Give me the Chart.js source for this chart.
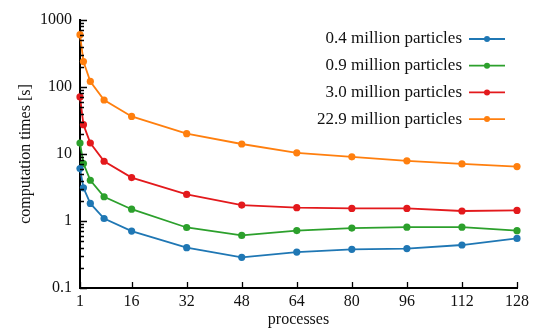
<!DOCTYPE html>
<html>
<head>
<meta charset="utf-8">
<script src="https://cdn.jsdelivr.net/npm/chart.js@4/dist/chart.umd.min.js"></script>
<style>
  html, body { margin: 0; padding: 0; background: #fff; }
  #wrap { width: 536px; height: 329px; }
</style>
</head>
<body>
<div id="wrap"><canvas id="c" width="536" height="329"></canvas></div>
<script>
// Process counts used in the scaling runs
const processes = [1, 2, 4, 8, 16, 32, 48, 64, 80, 96, 112, 128];

// Wall-clock computation times in seconds
const times04 = [6.06, 3.13, 1.83, 1.09, 0.707, 0.40, 0.287, 0.344, 0.378, 0.387, 0.438, 0.55];
const times09 = [14.6, 7.2, 4.06, 2.3, 1.5, 0.80, 0.61, 0.72, 0.785, 0.81, 0.81, 0.716];
const times30 = [71, 27.4, 14.6, 7.8, 4.45, 2.49, 1.73, 1.58, 1.54, 1.54, 1.41, 1.44];
const times229 = [604, 240, 121, 64, 36.4, 20.1, 14.1, 10.4, 9.06, 7.9, 7.1, 6.5];

const seriesLabels = ['0.4 million particles', '0.9 million particles', '3.0 million particles', '22.9 million particles'];
const seriesColors = ['#1f77b4', '#2ca02c', '#e3191c', '#ff7f0e'];

const xTicks = [1, 16, 32, 48, 64, 80, 96, 112, 128];
const yMajorTicks = [0.1, 1, 10, 100, 1000];
const yTickLabels = ['0.1', '1', '10', '100', '1000'];

const FONT = "'Liberation Serif', 'Times New Roman', serif";

function pts(ys) { return processes.map((x, i) => ({ x: x, y: ys[i] })); }

const allSeries = [times04, times09, times30, times229];
const datasets = allSeries.map((ys, i) => ({
  label: seriesLabels[i],
  data: pts(ys),
  borderColor: seriesColors[i],
  backgroundColor: seriesColors[i],
  borderWidth: 1.8,
  pointRadius: 3.6,
  pointHoverRadius: 3.6,
  pointBorderWidth: 0,
  tension: 0,
  clip: false
}));

// Inward tick marks on both axes (log minor ticks shorter)
const inwardTicks = {
  id: 'inwardTicks',
  afterDraw(chart) {
    const ctx = chart.ctx;
    const xs = chart.scales.x, ys = chart.scales.y;
    const area = chart.chartArea;
    ctx.save();
    ctx.strokeStyle = '#000';
    ctx.lineWidth = 1.3;
    ctx.beginPath();
    xTicks.forEach(v => {
      const px = Math.round(xs.getPixelForValue(v)) + 0.5;
      ctx.moveTo(px, area.bottom);
      ctx.lineTo(px, area.bottom - 6);
    });
    for (let d = -1; d < 3; d++) {
      for (let m = 1; m <= 9; m++) {
        const v = m * Math.pow(10, d);
        const py = Math.round(ys.getPixelForValue(v)) + 0.5;
        const len = m === 1 ? 7 : 4;
        ctx.moveTo(area.left, py);
        ctx.lineTo(area.left + len, py);
      }
    }
    const pTop = Math.round(ys.getPixelForValue(1000)) + 0.5;
    ctx.moveTo(area.left, pTop);
    ctx.lineTo(area.left + 7, pTop);
    ctx.stroke();
    ctx.restore();
  }
};

// Legend: right-aligned label followed by a line sample with a marker
const sideLegend = {
  id: 'sideLegend',
  afterDraw(chart) {
    const ctx = chart.ctx;
    const textRight = 462, lineL = 469, lineR = 505;
    const top = 39, step = 26.7;
    ctx.save();
    ctx.font = '17px ' + FONT;
    ctx.textAlign = 'right';
    ctx.textBaseline = 'middle';
    chart.data.datasets.forEach((ds, i) => {
      const y = top + i * step;
      ctx.fillStyle = '#111';
      ctx.fillText(ds.label, textRight, y);
      ctx.strokeStyle = ds.borderColor;
      ctx.lineWidth = 1.8;
      ctx.beginPath();
      ctx.moveTo(lineL, y);
      ctx.lineTo(lineR, y);
      ctx.stroke();
      ctx.fillStyle = ds.borderColor;
      ctx.beginPath();
      ctx.arc((lineL + lineR) / 2, y, 3, 0, Math.PI * 2);
      ctx.fill();
    });
    ctx.restore();
  }
};

new Chart(document.getElementById('c'), {
  type: 'line',
  data: { datasets: datasets },
  options: {
    responsive: false,
    animation: false,
    events: [],
    layout: { padding: { top: 20, right: 19, left: 0, bottom: 0 } },
    plugins: { legend: { display: false }, tooltip: { enabled: false } },
    scales: {
      x: {
        type: 'linear',
        min: 1, max: 128,
        afterBuildTicks(scale) { scale.ticks = xTicks.map(v => ({ value: v })); },
        afterFit(scale) { scale.height = 41; },
        grid: { display: false, drawTicks: false },
        border: { display: true, color: '#000', width: 2 },
        ticks: {
          color: '#111',
          font: { family: FONT, size: 16 },
          padding: 4,
          maxRotation: 0,
          autoSkip: false,
          callback: v => String(v)
        },
        title: {
          display: true,
          text: 'processes',
          color: '#111',
          font: { family: FONT, size: 16 },
          padding: { top: 0, bottom: 0 }
        }
      },
      y: {
        type: 'logarithmic',
        min: 0.1, max: 1000,
        afterBuildTicks(scale) { scale.ticks = yMajorTicks.map(v => ({ value: v })); },
        afterFit(scale) { scale.width = 80; },
        grid: { display: false, drawTicks: false },
        border: { display: true, color: '#000', width: 2 },
        ticks: {
          color: '#111',
          font: { family: FONT, size: 16 },
          padding: 8,
          autoSkip: false,
          callback: (v) => {
            const i = yMajorTicks.indexOf(v);
            return i >= 0 ? yTickLabels[i] : '';
          }
        },
        title: {
          display: true,
          text: 'computation times [s]',
          color: '#111',
          font: { family: FONT, size: 16 },
          padding: { top: 16, bottom: 0 }
        }
      }
    }
  },
  plugins: [inwardTicks, sideLegend]
});
</script>
</body>
</html>
